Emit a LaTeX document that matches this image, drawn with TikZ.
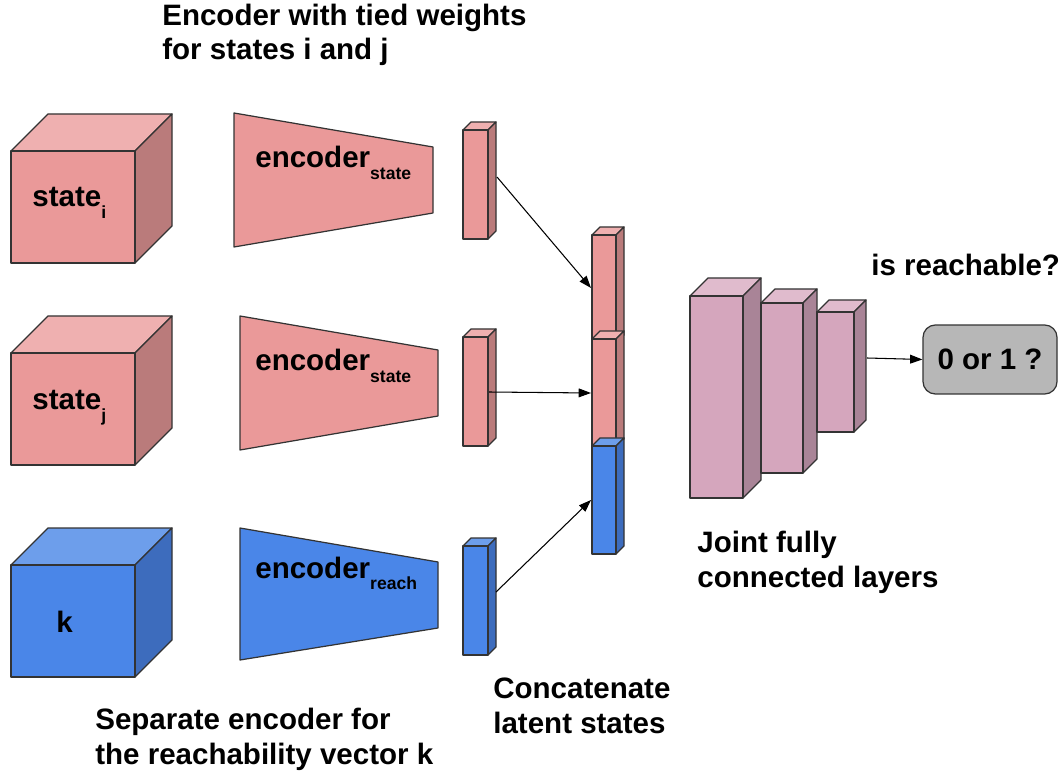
\documentclass[tikz,border=0pt]{standalone}
\usepackage{fontspec}
\setmainfont{Liberation Sans}
\usetikzlibrary{arrows.meta,positioning}
\definecolor{Salmon}{HTML}{EA9999}
\definecolor{SalmonTop}{HTML}{EFB0B0}
\definecolor{SalmonSide}{HTML}{BA7B7B}
\definecolor{Azure}{HTML}{4A86E8}
\definecolor{AzureTop}{HTML}{6D9EEB}
\definecolor{AzureSide}{HTML}{3D6CBD}
\definecolor{Mauve}{HTML}{D5A6BD}
\definecolor{MauveTop}{HTML}{E0BBCD}
\definecolor{MauveSide}{HTML}{A98497}
\definecolor{Slate}{HTML}{B7B7B7}
\definecolor{Edge}{HTML}{333333}

% box seen in perspective: x, y, width, height, depth, colour
\newcommand{\cuboid}[6]{%
  \filldraw[face,fill=#6Top] (#1,#2) -- ++(#5,-#5) -- ++(#3,0) -- ++(-#5,#5) -- cycle;
  \filldraw[face,fill=#6Side] (#1,#2) ++(#3,0) -- ++(#5,-#5) -- ++(0,#4) -- ++(-#5,#5) -- cycle;
  \filldraw[face,fill=#6] (#1,#2) rectangle ++(#3,#4);
}
\newcommand{\lowidx}[1]{\raisebox{-6.8pt}{\fontsize{10}{12}\selectfont #1}}

\begin{document}
\begin{tikzpicture}[x=0.02cm,y=-0.02cm,
    face/.style={draw=Edge,line width=0.7pt,line join=round},
    tag/.style={font=\fontsize{16.8}{19.7}\selectfont\bfseries,inner sep=0pt,align=left,anchor=base west},
    link/.style={-{Triangle[length=7pt,width=5pt]},line width=0.6pt},
    outbox/.style={draw=Edge,line width=0.7pt,fill=Slate,rounded corners=7pt,
      minimum width=2.68cm,minimum height=1.38cm,font=\fontsize{16.8}{19.7}\selectfont\bfseries}]
    \useasboundingbox (0,0) rectangle (1061,776);

    % Input states
    \cuboid{11}{151}{124}{112}{37}{Salmon}
    \cuboid{11}{353}{124}{112}{37}{Salmon}
    \cuboid{11}{565}{124}{112}{37}{Azure}
    \node[tag] (state-i) at (32,207) {state\lowidx{i}};
    \node[tag] (state-j) at (32,410) {state\lowidx{j}};
    \node[tag] (vec-k) at (56,632) {k};

    % Encoders
    \filldraw[face,fill=Salmon] (234,113) -- (433,147) -- (433,213) -- (234,247) -- cycle;
    \filldraw[face,fill=Salmon] (240,316) -- (438,350) -- (438,416) -- (240,450) -- cycle;
    \filldraw[face,fill=Azure] (240,528) -- (438,562) -- (438,628) -- (240,660) -- cycle;
    \node[tag] (enc-i) at (255,168) {encoder\lowidx{state}};
    \node[tag] (enc-j) at (255,371) {encoder\lowidx{state}};
    \node[tag] (enc-k) at (255,578) {encoder\lowidx{reach}};

    % Latent vectors
    \cuboid{463}{130}{25}{109}{8}{Salmon}
    \cuboid{463}{337}{25}{109}{8}{Salmon}
    \cuboid{463}{546}{25}{109}{8}{Azure}

    % Concatenation
    \cuboid{592}{235}{24}{108}{8}{Salmon}
    \cuboid{592}{339}{24}{108}{8}{Salmon}
    \cuboid{592}{446}{24}{108}{8}{Azure}

    % Fully connected layers
    \cuboid{690}{296}{53}{202}{18}{Mauve}
    \cuboid{761}{303}{42}{170}{14}{Mauve}
    \cuboid{817}{312}{37}{120}{12}{Mauve}

    % Output
    \node[outbox] (out) at (990,359.5) {0 or 1 ?};

    % Connectors
    \coordinate (lat-i) at (497,177);
    \coordinate (cat-i) at (591,288);
    \coordinate (lat-j) at (489,392);
    \coordinate (cat-j) at (591,393);
    \coordinate (lat-k) at (496,592);
    \coordinate (cat-k) at (591,500);
    \coordinate (fc-end) at (867,358);
    \draw[link] (lat-i) -- (cat-i);
    \draw[link] (lat-j) -- (cat-j);
    \draw[link] (lat-k) -- (cat-k);
    \draw[link] (fc-end) -- (out.west);

    % Captions (anchored on their last line)
    \node[tag] (cap-tied) at (162,60) {Encoder with tied weights\\for states i and j};
    \node[tag] (cap-reach) at (871,276) {is reachable?};
    \node[tag] (cap-joint) at (697,587) {Joint fully\\connected layers};
    \node[tag] (cap-concat) at (493,733) {Concatenate\\latent states};
    \node[tag] (cap-sep) at (95,764) {Separate encoder for\\the reachability vector k};
\end{tikzpicture}
\end{document}
